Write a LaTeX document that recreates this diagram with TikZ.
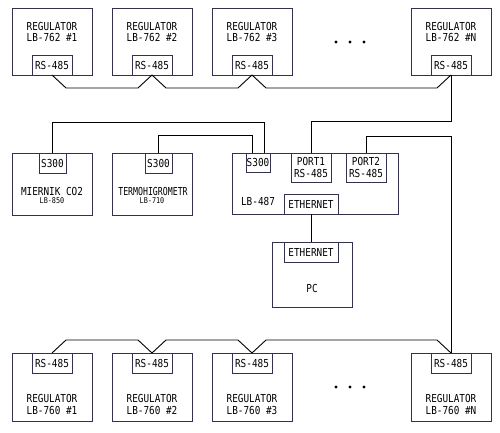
\documentclass[tikz,border=0pt]{standalone}
\usepackage{fontspec}
\setmainfont{DejaVu Sans Mono}[FakeStretch=0.85]
\usepackage{tikz}
\usetikzlibrary{calc}
\definecolor{boxcol}{RGB}{50,50,80}

\begin{document}
\begin{tikzpicture}[x=1pt, y=-1pt,
                      every node/.style={inner sep=0pt, outer sep=0pt, font=\fontsize{11}{11.5}\selectfont},
                      box/.style={draw=boxcol, line width=0.9pt},
                      port/.style={draw=boxcol, line width=0.9pt, minimum height=20pt, align=center},
                      lbl/.style={align=center},
                      wire/.style={line width=0.9pt}
                  ]
                  \useasboundingbox (0,0) rectangle (500,433);
                  % top row, LB-762
                  \foreach \x/\n in {52/1,152/2,252/3,451/N}{
                    \node[box, minimum width=80pt, minimum height=67pt] at (\x,41.5) (t\n) {};
                    \node[lbl] at (\x,32) (tt\n) {REGULATOR\\LB-762 \#\n};
                    \node[port, minimum width=40pt] at (\x,65) (tp\n) {RS-485};
                  }
                  % bottom row, LB-760
                  \foreach \x/\n in {52/1,152/2,252/3,451/N}{
                    \node[box, minimum width=80pt, minimum height=68pt] at (\x,387) (b\n) {};
                    \node[lbl] at (\x,404.5) (bt\n) {REGULATOR\\LB-760 \#\n};
                    \node[port, minimum width=40pt] at (\x,363) (bp\n) {RS-485};
                  }
                  \foreach \x in {336,350,364}{
                    \fill (\x,42) circle (1.7pt);
                    \fill (\x,387) circle (1.7pt);
                  }
                  % sensors
                  \node[box, minimum width=80pt, minimum height=62pt] at (52,184) (co2) {};
                  \node[port, minimum width=27pt] at (52.5,163) (co2s) {S300};
                  \node at (52,191) (co2t) {MIERNIK CO2};
                  \node[font=\fontsize{8}{9}\selectfont] at (52,201) (co2m) {LB-850};
                  \node[box, minimum width=80pt, minimum height=62pt] at (152,184) (hyg) {};
                  \node[port, minimum width=27pt] at (158.5,163) (hygs) {S300};
                  \node at (153,191) (hygt) {\scalebox{0.88}[1]{TERMOHIGROMETR}};
                  \node[font=\fontsize{8}{9}\selectfont] at (152,201) (hygm) {LB-710};
                  % LB-487
                  \node[box, minimum width=166pt, minimum height=61pt] at (315,183.5) (lb) {};
                  \node[port, minimum width=24pt, minimum height=19pt] at (258,162.5) (lbs) {S300};
                  \node[port, minimum width=40pt, minimum height=29pt] at (311,167.5) (port1) {PORT1\\RS-485};
                  \node[port, minimum width=40pt, minimum height=29pt] at (366,167.5) (port2) {PORT2\\RS-485};
                  \node[port, minimum width=54pt] at (311,204) (eth1) {ETHERNET};
                  \node at (258,201) (lbt) {LB-487};
                  % PC
                  \node[box, minimum width=80pt, minimum height=65pt] at (312,274.5) (pc) {};
                  \node[port, minimum width=54pt] at (311,252) (eth2) {ETHERNET};
                  \node at (312,288) (pct) {PC};
                  % buses
                  \draw[wire] (tp1.south) -- ++(14,13) -- ($(tp2.south)+(-14,13)$) -- (tp2.south)
                    -- ++(14,13) -- ($(tp3.south)+(-14,13)$) -- (tp3.south)
                    -- ++(14,13) -- ($(tpN.south)+(-14,13)$) -- (tpN.south);
                  \draw[wire] (bp1.north) -- ++(14,-13) -- ($(bp2.north)+(-14,-13)$) -- (bp2.north)
                    -- ++(14,-13) -- ($(bp3.north)+(-14,-13)$) -- (bp3.north)
                    -- ++(14,-13) -- ($(bpN.north)+(-14,-13)$) -- (bpN.north);
                  \draw[wire] (tpN.south) -- ++(0,46) -| (port1.north);
                  \draw[wire] (port2.north) -- ++(0,-17) -| (bpN.north);
                  \draw[wire] (co2s.north) -- ++(0,-31) -| ([xshift=6pt]lbs.north);
                  \draw[wire] (hygs.north) -- ++(0,-18) -| ([xshift=-6pt]lbs.north);
                  \draw[wire] (eth1.south) -- (eth2.north);
              \end{tikzpicture}
\end{document}
